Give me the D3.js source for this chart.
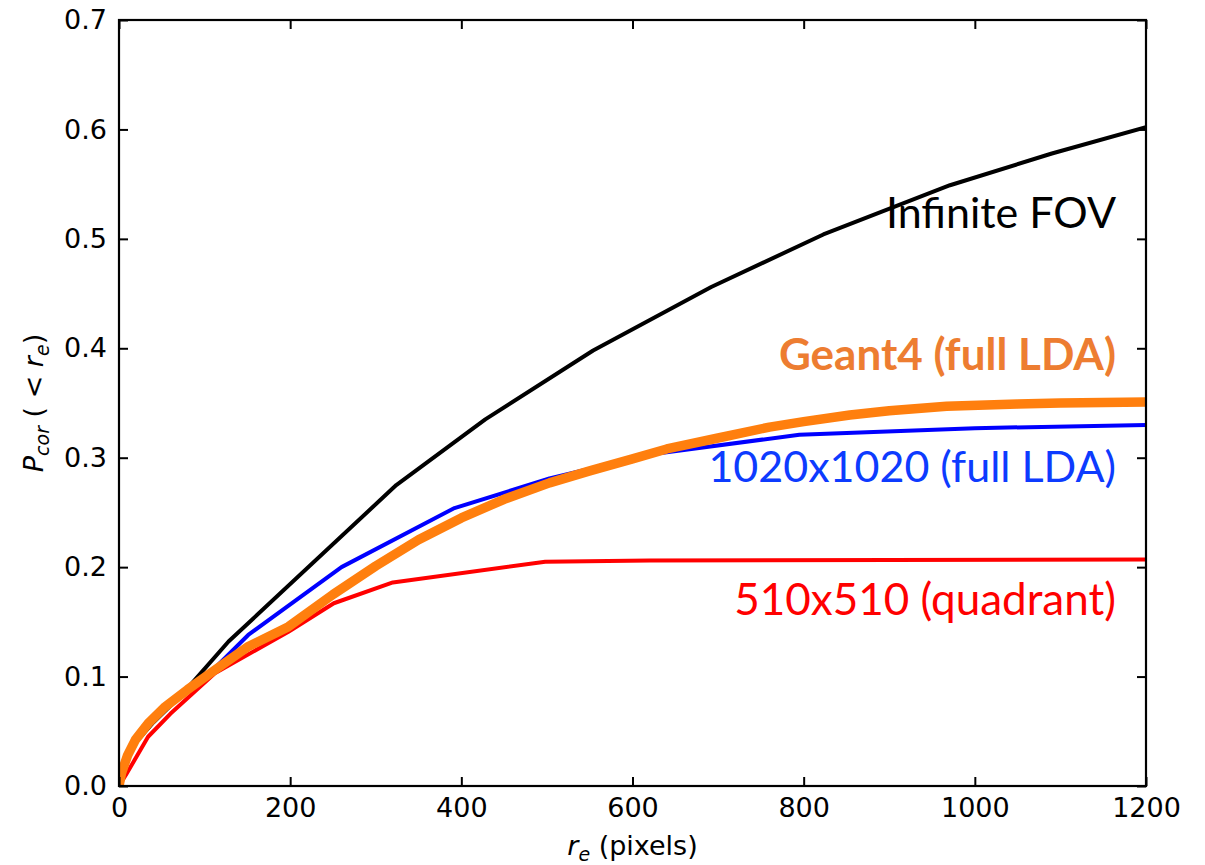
<!DOCTYPE html>
<html>
<head>
<meta charset="utf-8">
<script src="https://cdn.jsdelivr.net/npm/d3@7"></script>
<style>
  body { margin: 0; background: #fff; }
  svg { display: block; }
</style>
</head>
<body>
<div id="chart"></div>
<script>
// Infinite FOV
const infX = [0, 10, 20, 40, 73, 128, 324, 428, 554, 692, 823, 971, 1090, 1200];
const infY = [0, 0.026, 0.040, 0.058, 0.083, 0.132, 0.275, 0.335, 0.398, 0.456, 0.504, 0.549, 0.578, 0.602];

// 1020x1020 (full LDA)
const fullX = [0, 10, 19, 35, 54, 80, 111, 151, 260, 392, 503, 620, 795, 1000, 1200];
const fullY = [0, 0.028, 0.042, 0.058, 0.0725, 0.088, 0.107, 0.138, 0.200, 0.254, 0.281, 0.303, 0.321, 0.327, 0.330];

// 510x510 (quadrant)
const quadX = [0, 8, 34, 60, 112, 198, 251, 320, 498, 620, 1200];
const quadY = [0, 0.010, 0.045, 0.066, 0.103, 0.141, 0.167, 0.186, 0.205, 0.206, 0.207];

// Geant4 (full LDA)
const g4X = [0, 3, 10, 19, 35, 54, 80, 112, 150, 198, 250, 300, 350, 400, 450, 503, 550, 600, 640, 700, 760, 800, 854, 900, 967, 1050, 1100, 1200];
const g4Y = [0, 0.012, 0.028, 0.042, 0.058, 0.0725, 0.088, 0.106, 0.127, 0.1456, 0.175, 0.201, 0.225, 0.245, 0.262, 0.277, 0.288, 0.299, 0.308, 0.318, 0.328, 0.333, 0.339, 0.343, 0.347, 0.349, 0.350, 0.351];

const xTicks = [0, 200, 400, 600, 800, 1000, 1200];
const yTicks = [0, 0.1, 0.2, 0.3, 0.4, 0.5, 0.6, 0.7];

const series = [
  { name: "510x510 (quadrant)", xs: quadX, ys: quadY, color: "#ff0000", lw: 4 },
  { name: "1020x1020 (full LDA)", xs: fullX, ys: fullY, color: "#0000ff", lw: 4 },
  { name: "Infinite FOV", xs: infX, ys: infY, color: "#000000", lw: 4 },
  { name: "Geant4 (full LDA)", xs: g4X, ys: g4Y, color: "#ff7f0e", lw: 9.5 }
];

const W = 1205, H = 865;
const margin = { top: 20, right: 59, bottom: 79, left: 119 };
const width = W - margin.left - margin.right;
const height = H - margin.top - margin.bottom;

const svg = d3.select("#chart")
  .append("svg")
  .attr("width", W)
  .attr("height", H);

const g = svg.append("g")
  .attr("transform", `translate(${margin.left},${margin.top})`);

const x = d3.scaleLinear().domain([0, 1200]).range([0, width]);
const y = d3.scaleLinear().domain([0, 0.7]).range([height, 0]);

g.append("clipPath").attr("id", "clip")
  .append("rect").attr("width", width).attr("height", height);

// lines
const line = d3.line().x(d => x(d[0])).y(d => y(d[1]));
g.append("g").attr("clip-path", "url(#clip)")
  .selectAll("path")
  .data(series)
  .join("path")
  .attr("fill", "none")
  .attr("stroke", d => d.color)
  .attr("stroke-width", d => d.lw)
  .attr("stroke-linejoin", "round")
  .attr("d", d => line(d.xs.map((v, i) => [v, d.ys[i]])));

// axes, ticks inward on all sides
const tickFont = "DejaVu Sans, sans-serif";
function styleAxis(sel, showLabels) {
  sel.select(".domain").remove();
  sel.selectAll(".tick line").attr("stroke", "#000").attr("stroke-width", 2);
  sel.selectAll(".tick text")
    .style("font-family", tickFont)
    .style("font-size", "27px")
    .attr("fill", "#000");
  if (!showLabels) sel.selectAll(".tick text").remove();
}

g.append("g")
  .attr("transform", `translate(0,${height})`)
  .call(d3.axisBottom(x).tickValues(xTicks).tickSizeInner(-9).tickPadding(12).tickFormat(d3.format("d")))
  .call(s => styleAxis(s, true));

g.append("g")
  .call(d3.axisTop(x).tickValues(xTicks).tickSizeInner(-9).tickFormat(""))
  .call(s => styleAxis(s, false));

g.append("g")
  .call(d3.axisLeft(y).tickValues(yTicks).tickSizeInner(-9).tickPadding(12).tickFormat(d3.format(".1f")))
  .call(s => styleAxis(s, true));

g.append("g")
  .attr("transform", `translate(${width},0)`)
  .call(d3.axisRight(y).tickValues(yTicks).tickSizeInner(-9).tickFormat(""))
  .call(s => styleAxis(s, false));

// frame
g.append("rect")
  .attr("width", width)
  .attr("height", height)
  .attr("fill", "none")
  .attr("stroke", "#000")
  .attr("stroke-width", 2.2);

// axis labels
const xl = svg.append("text")
  .attr("x", margin.left + width / 2)
  .attr("y", 855)
  .attr("text-anchor", "middle")
  .style("font-family", tickFont)
  .style("font-size", "27px");
xl.append("tspan").style("font-style", "italic").text("r");
xl.append("tspan").style("font-style", "italic").style("font-size", "19px").attr("dy", 6).text("e");
xl.append("tspan").attr("dy", -6).text(" (pixels)");

const yl = svg.append("text")
  .attr("transform", `translate(43,${margin.top + height / 2}) rotate(-90)`)
  .attr("text-anchor", "middle")
  .style("font-family", tickFont)
  .style("font-size", "27px");
yl.append("tspan").style("font-style", "italic").text("P");
yl.append("tspan").style("font-style", "italic").style("font-size", "19px").attr("dy", 6).text("cor");
yl.append("tspan").attr("dy", -6).text(" ( < ");
yl.append("tspan").style("font-style", "italic").text("r");
yl.append("tspan").style("font-style", "italic").style("font-size", "19px").attr("dy", 6).text("e");
yl.append("tspan").attr("dy", -6).text(")");

// annotations
const labels = [
  { text: "Infinite FOV", px: 1116, py: 228, color: "#000000", weight: "normal", size: 43 },
  { text: "Geant4 (full LDA)", px: 1116, py: 370, color: "#ed7d31", weight: "bold", size: 44 },
  { text: "1020x1020 (full LDA)", px: 1116, py: 482, color: "#0d3bff", weight: "normal", size: 43 },
  { text: "510x510 (quadrant)", px: 1116, py: 615, color: "#ff0000", weight: "normal", size: 44 }
];
svg.selectAll("text.anno")
  .data(labels)
  .join("text")
  .attr("class", "anno")
  .attr("x", d => d.px)
  .attr("y", d => d.py)
  .attr("text-anchor", "end")
  .attr("fill", d => d.color)
  .style("font-family", "Lato, sans-serif")
  .style("font-size", d => d.size + "px")
  .style("font-weight", d => d.weight)
  .text(d => d.text);
</script>
</body>
</html>
